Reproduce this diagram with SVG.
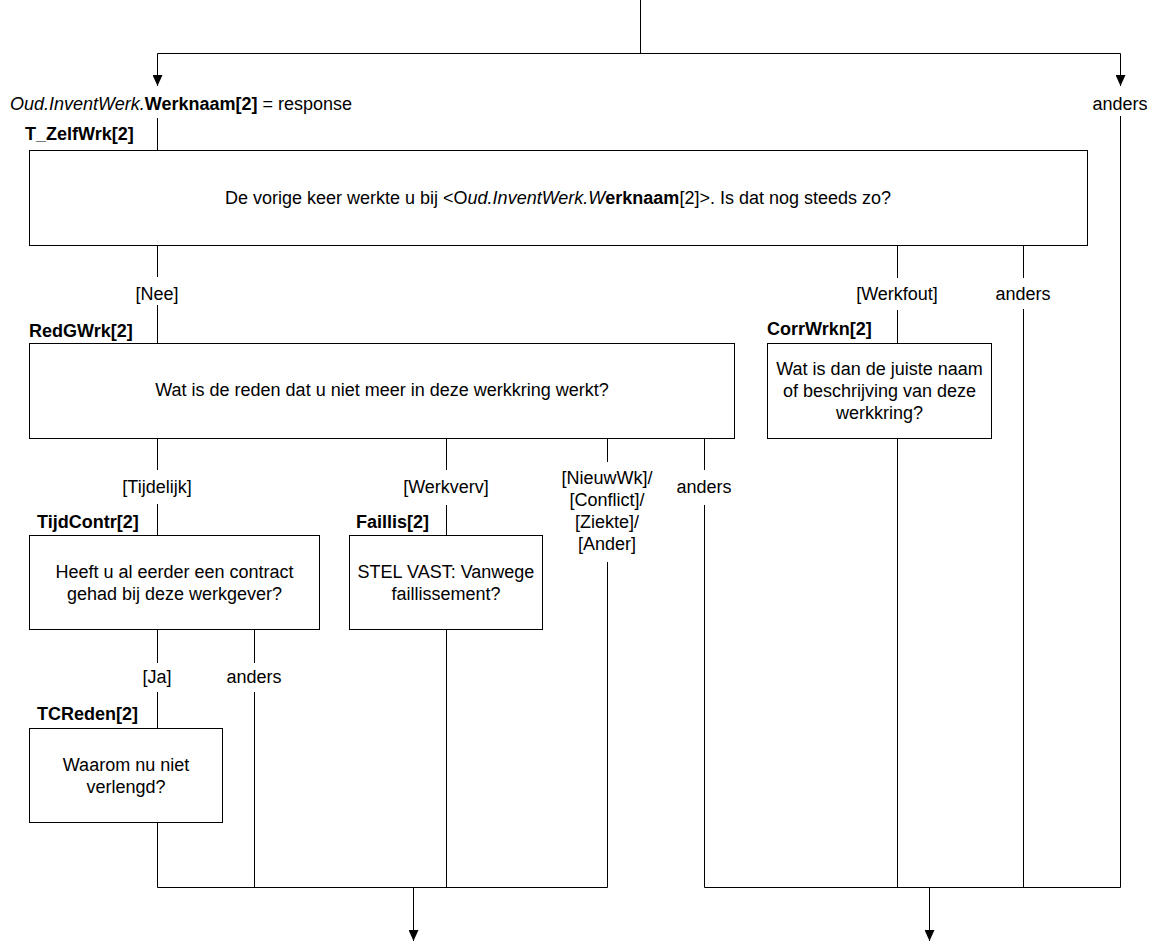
<svg xmlns="http://www.w3.org/2000/svg" width="1160" height="952" viewBox="0 0 1160 952">
<style>
text{font-family:"Liberation Sans",Arial,sans-serif;font-size:18px;fill:#000}
.t{font-weight:bold}
.c{text-anchor:middle}
.box{fill:#fff;stroke:#000;stroke-width:1}
.ln{fill:none;stroke:#000;stroke-width:1}
</style>
<defs>
<marker id="arr" viewBox="0 0 11 10" refX="11" refY="5" markerWidth="11" markerHeight="10" markerUnits="userSpaceOnUse" orient="auto"><path d="M0,0 L11,5 L0,10 z" fill="#000"/></marker>
</defs>
<rect width="1160" height="952" fill="#fff"/>
<g id="connectors" class="ln">
<path d="M640.5,0 V53.5"/>
<path d="M157.5,53.5 H1120.5"/>
<path d="M157.5,53.5 V86" marker-end="url(#arr)"/>
<path d="M1120.5,53.5 V86" marker-end="url(#arr)"/>
<path d="M157.5,118 V150"/>
<path d="M1120.5,116 V887.5"/>
<path d="M157.5,246 V277 M157.5,305 V343"/>
<path d="M897.5,246 V278 M897.5,310 V343"/>
<path d="M1023.5,246 V278 M1023.5,309 V887.5"/>
<path d="M157.5,438 V470 M157.5,504 V535"/>
<path d="M446.5,438 V470 M446.5,505 V535"/>
<path d="M607.5,438 V462 M607.5,562 V887.5"/>
<path d="M704.5,438 V470 M704.5,505 V887.5"/>
<path d="M157.5,630 V663 M157.5,692 V728"/>
<path d="M254.5,630 V663 M254.5,692 V887.5"/>
<path d="M157.5,823 V887.5"/>
<path d="M446.5,630 V887.5"/>
<path d="M897.5,439 V887.5"/>
<path d="M157.5,887.5 H607.5"/>
<path d="M704.5,887.5 H1120.5"/>
<path d="M413.5,887.5 V941" marker-end="url(#arr)"/>
<path d="M929.5,887.5 V941" marker-end="url(#arr)"/>
</g>
<g id="labels">
<text x="10" y="110"><tspan font-style="italic">Oud.InventWerk.</tspan><tspan font-weight="bold">Werknaam[2]</tspan> = response</text>
<text class="c" x="1120" y="110">anders</text>
<text class="c" x="157" y="300">[Nee]</text>
<text class="c" x="897" y="300">[Werkfout]</text>
<text class="c" x="1023" y="300">anders</text>
<text class="c" x="157" y="493">[Tijdelijk]</text>
<text class="c" x="446" y="493">[Werkverv]</text>
<text class="c" x="607" y="484">[NieuwWk]/</text>
<text class="c" x="607" y="506">[Conflict]/</text>
<text class="c" x="607" y="528">[Ziekte]/</text>
<text class="c" x="607" y="550">[Ander]</text>
<text class="c" x="704" y="493">anders</text>
<text class="c" x="157" y="683">[Ja]</text>
<text class="c" x="254" y="683">anders</text>
</g>
<g id="T_ZelfWrk">
<text class="t" x="25" y="140">T_ZelfWrk[2]</text>
<rect class="box" x="29.5" y="150.5" width="1058" height="95"/>
<text class="c" x="558" y="204">De vorige keer werkte u bij &lt;O<tspan font-style="italic">ud.InventWerk.W</tspan><tspan font-weight="bold">erknaam</tspan>[2]&gt;. Is dat nog steeds zo?</text>
</g>
<g id="RedGWrk">
<text class="t" x="29" y="337">RedGWrk[2]</text>
<rect class="box" x="29.5" y="343.5" width="705" height="95"/>
<text class="c" x="382" y="396">Wat is de reden dat u niet meer in deze werkkring werkt?</text>
</g>
<g id="CorrWrkn">
<text class="t" x="767" y="335">CorrWrkn[2]</text>
<rect class="box" x="767.5" y="343.5" width="224" height="95"/>
<text class="c" x="879.5" y="375">Wat is dan de juiste naam</text>
<text class="c" x="879.5" y="397">of beschrijving van deze</text>
<text class="c" x="879.5" y="419">werkkring?</text>
</g>
<g id="TijdContr">
<text class="t" x="37" y="528">TijdContr[2]</text>
<rect class="box" x="29.5" y="535.5" width="290" height="94"/>
<text class="c" x="174.5" y="578">Heeft u al eerder een contract</text>
<text class="c" x="174.5" y="600">gehad bij deze werkgever?</text>
</g>
<g id="Faillis">
<text class="t" x="356" y="528">Faillis[2]</text>
<rect class="box" x="349.5" y="535.5" width="193" height="94"/>
<text class="c" x="446" y="578">STEL VAST: Vanwege</text>
<text class="c" x="446" y="600">faillissement?</text>
</g>
<g id="TCReden">
<text class="t" x="37" y="720">TCReden[2]</text>
<rect class="box" x="29.5" y="728.5" width="193" height="94"/>
<text class="c" x="126" y="771">Waarom nu niet</text>
<text class="c" x="126" y="793">verlengd?</text>
</g>
</svg>
